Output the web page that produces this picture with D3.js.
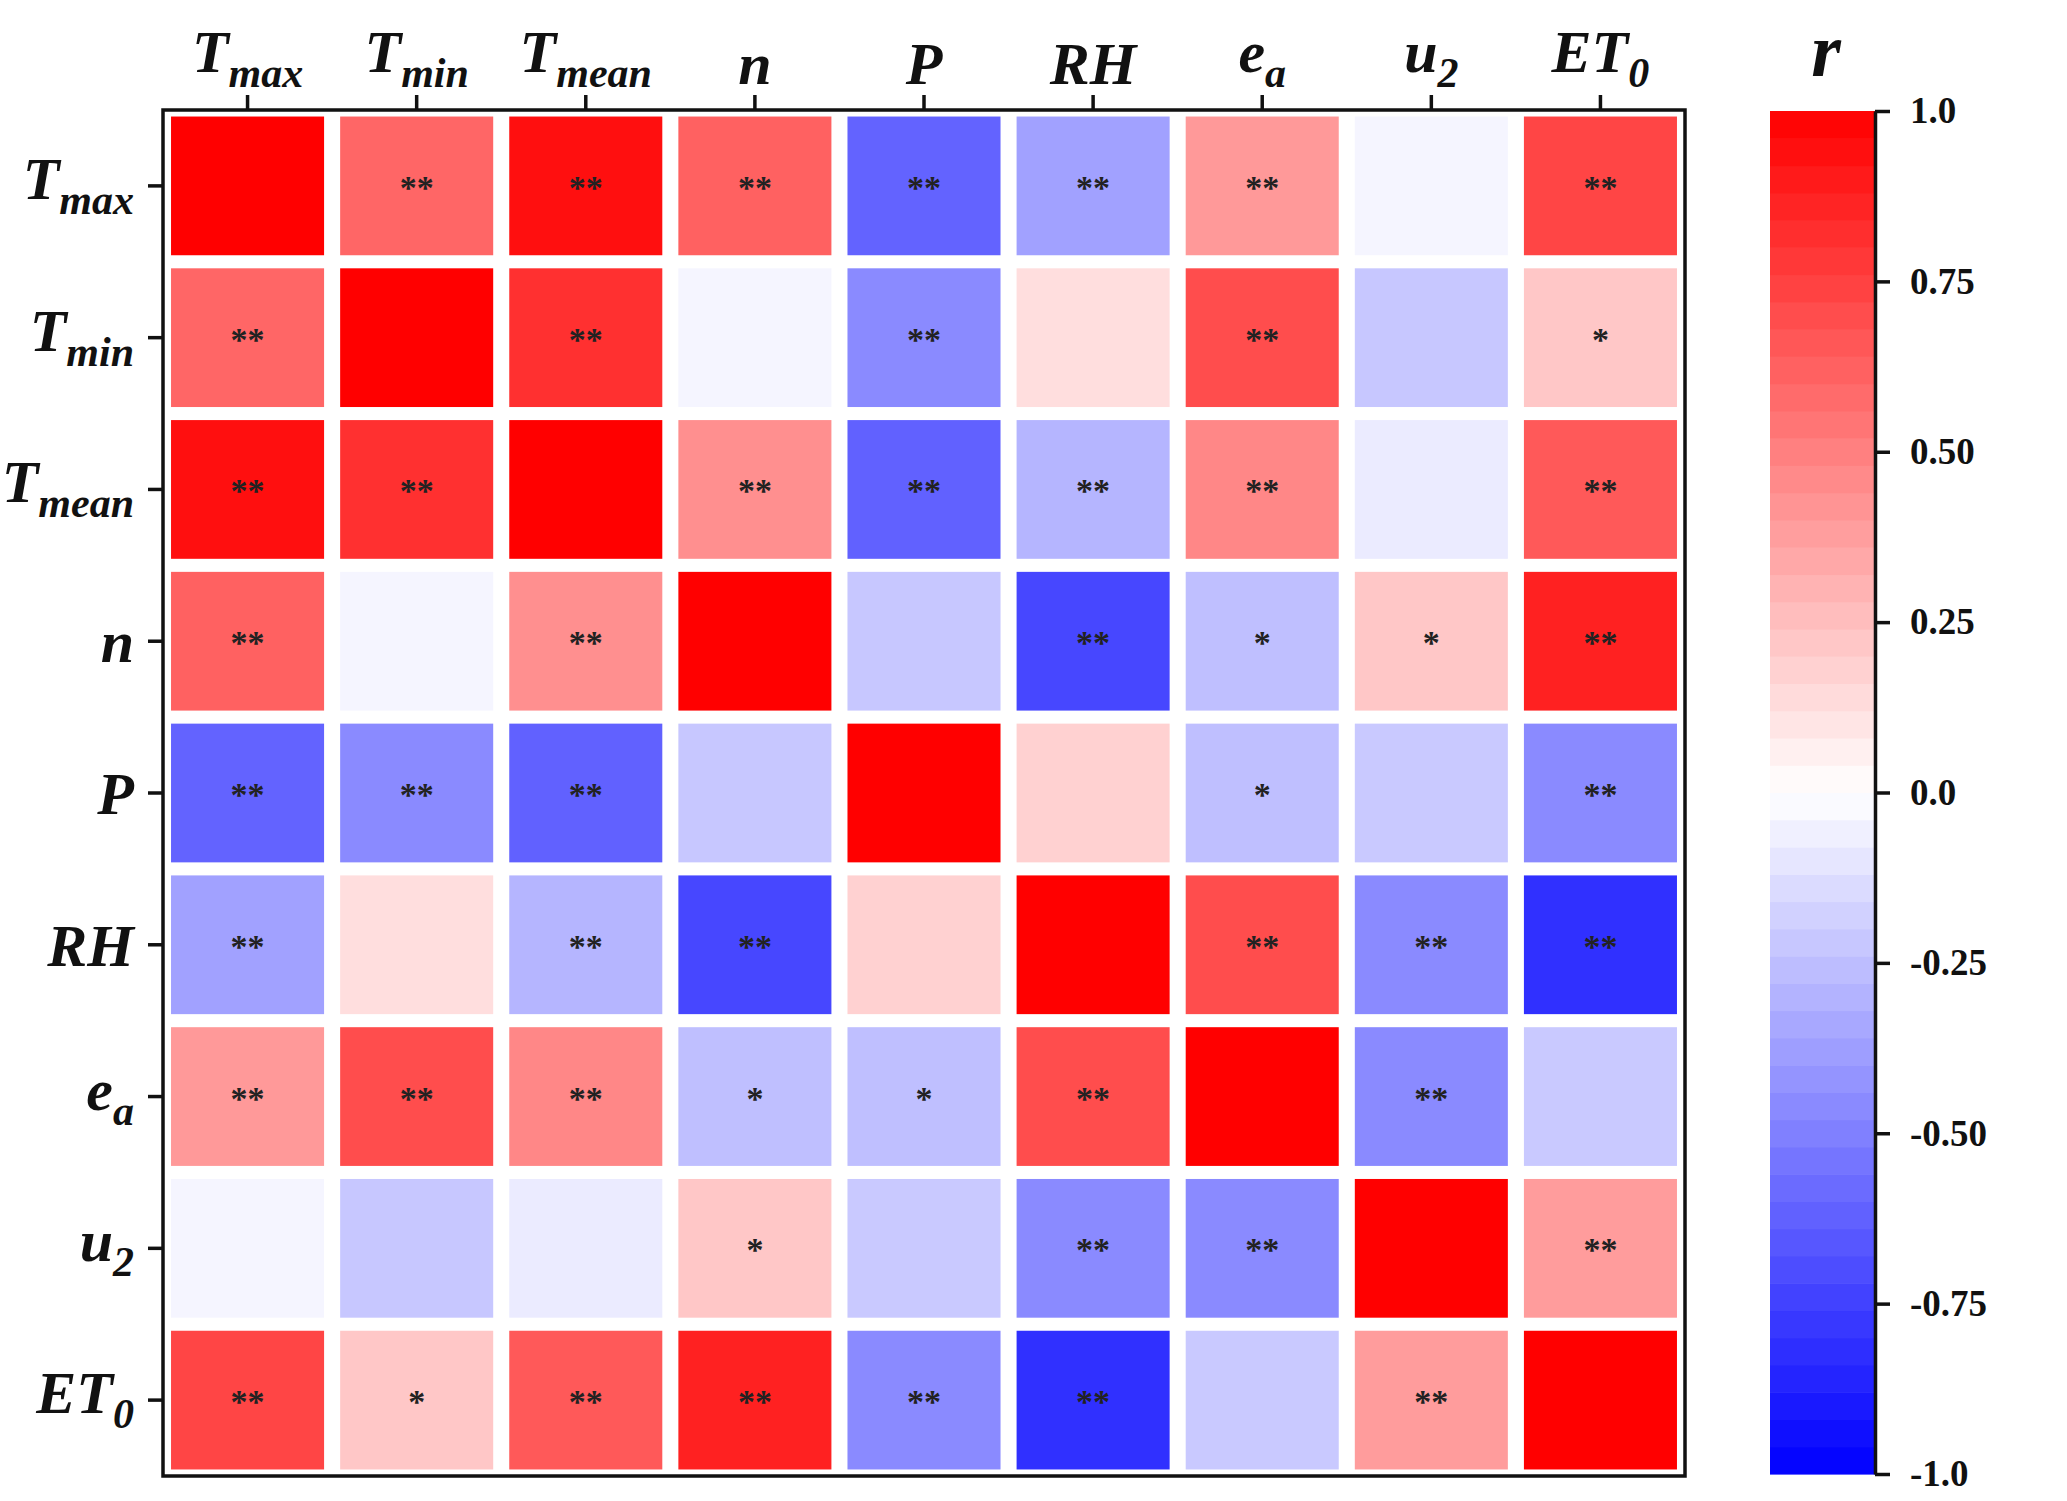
<!DOCTYPE html>
<html>
<head>
<meta charset="utf-8">
<script src="https://cdn.jsdelivr.net/npm/d3@7"></script>
<style>
    body { margin: 0; background: #fff; }
    svg { display: block; }
    .lbl { font-family: 'Liberation Serif', 'Times New Roman', serif; font-weight: bold; font-style: italic; }
    .num { font-family: 'Liberation Serif', 'Times New Roman', serif; font-weight: bold; }
</style>
</head>
<body>
<svg id="chart" width="2067" height="1501"></svg>
<script>
'use strict';

// variable names: main letter + subscript
var labelMain = ['T', 'T', 'T', 'n', 'P', 'RH', 'e', 'u', 'ET'];
var labelSub = ['max', 'min', 'mean', '', '', '', 'a', '2', '0'];

// correlation coefficients (row by row)
var rTmax = [1.00, 0.60, 0.94, 0.62, -0.61, -0.37, 0.40, -0.04, 0.73];
var rTmin = [0.60, 1.00, 0.81, -0.04, -0.46, 0.13, 0.70, -0.22, 0.22];
var rTmean = [0.94, 0.81, 1.00, 0.44, -0.62, -0.29, 0.47, -0.08, 0.65];
var rN = [0.62, -0.04, 0.44, 1.00, -0.22, -0.72, -0.25, 0.22, 0.87];
var rP = [-0.61, -0.46, -0.62, -0.22, 1.00, 0.18, -0.25, -0.21, -0.46];
var rRH = [-0.37, 0.13, -0.29, -0.72, 0.18, 1.00, 0.70, -0.46, -0.81];
var rEa = [0.40, 0.70, 0.47, -0.25, -0.25, 0.70, 1.00, -0.46, -0.21];
var rU2 = [-0.04, -0.22, -0.08, 0.22, -0.21, -0.46, -0.46, 1.00, 0.39];
var rET0 = [0.73, 0.22, 0.65, 0.87, -0.46, -0.81, -0.21, 0.39, 1.00];

// significance marks
var sTmax = ['', '**', '**', '**', '**', '**', '**', '', '**'];
var sTmin = ['**', '', '**', '', '**', '', '**', '', '*'];
var sTmean = ['**', '**', '', '**', '**', '**', '**', '', '**'];
var sN = ['**', '', '**', '', '', '**', '*', '*', '**'];
var sP = ['**', '**', '**', '', '', '', '*', '', '**'];
var sRH = ['**', '', '**', '**', '', '', '**', '**', '**'];
var sEa = ['**', '**', '**', '*', '*', '**', '', '**', ''];
var sU2 = ['', '', '', '*', '', '**', '**', '', '**'];
var sET0 = ['**', '*', '**', '**', '**', '**', '', '**', ''];

// colour bar ticks
var barTicks = [1, 0.75, 0.5, 0.25, 0, -0.25, -0.5, -0.75, -1];
var barTickLabels = ['1.0', '0.75', '0.50', '0.25', '0.0', '-0.25', '-0.50', '-0.75', '-1.0'];

var rMatrix = [rTmax, rTmin, rTmean, rN, rP, rRH, rEa, rU2, rET0];
var sMatrix = [sTmax, sTmin, sTmean, sN, sP, sRH, sEa, sU2, sET0];

var svg = d3.select('#chart');
var keys = d3.range(labelMain.length);

var plot = { left: 163, top: 110, right: 1685, bottom: 1476 };
var bar = { left: 1770, right: 1875, top: 111, bottom: 1474 };

var x = d3.scaleBand().domain(keys).range([plot.left, plot.right])
    .paddingInner(0.095).paddingOuter(0.0475);
var y = d3.scaleBand().domain(keys).range([plot.top, plot.bottom])
    .paddingInner(0.086).paddingOuter(0.043);
var color = d3.scaleLinear().domain([-1, 0, 1]).range(['#0000ff', '#ffffff', '#ff0000']);

var cells = [];
rMatrix.forEach(function (row, i) {
    row.forEach(function (v, j) {
        cells.push({ row: i, col: j, r: v, sig: sMatrix[i][j] });
    });
});

// cells
var g = svg.append('g');
g.selectAll('rect')
    .data(cells)
    .enter()
    .append('rect')
    .attr('x', function (d) { return x(d.col); })
    .attr('y', function (d) { return y(d.row); })
    .attr('width', x.bandwidth())
    .attr('height', y.bandwidth())
    .attr('fill', function (d) { return color(d.r); });

g.selectAll('text')
    .data(cells.filter(function (d) { return d.sig !== ''; }))
    .enter()
    .append('text')
    .attr('class', 'num')
    .attr('x', function (d) { return x(d.col) + x.bandwidth() / 2; })
    .attr('y', function (d) { return y(d.row) + y.bandwidth() / 2 + 13; })
    .attr('text-anchor', 'middle')
    .attr('font-size', 34)
    .attr('fill', '#222')
    .text(function (d) { return d.sig; });

// frame
svg.append('rect')
    .attr('x', plot.left).attr('y', plot.top)
    .attr('width', plot.right - plot.left).attr('height', plot.bottom - plot.top)
    .attr('fill', 'none').attr('stroke', '#111').attr('stroke-width', 3.5);

// ticks
var topAxis = svg.append('g')
    .attr('transform', 'translate(0,' + plot.top + ')')
    .call(d3.axisTop(x).tickSize(15).tickSizeOuter(0).tickFormat(''));
var leftAxis = svg.append('g')
    .attr('transform', 'translate(' + plot.left + ',0)')
    .call(d3.axisLeft(y).tickSize(15).tickSizeOuter(0).tickFormat(''));
[topAxis, leftAxis].forEach(function (a) {
    a.select('.domain').remove();
    a.selectAll('line').attr('stroke', '#111').attr('stroke-width', 3.5);
});

function addLabel(sel, i, anchor) {
    var t = sel.append('text')
        .attr('class', 'lbl')
        .attr('text-anchor', anchor)
        .attr('font-size', 60)
        .attr('fill', '#111');
    t.append('tspan').text(labelMain[i]);
    if (labelSub[i]) {
        t.append('tspan').attr('font-size', 42).attr('dy', 15).text(labelSub[i]);
    }
    return t;
}

// top labels
keys.forEach(function (i) {
    var t = addLabel(svg, i, 'middle');
    t.attr('x', x(i) + x.bandwidth() / 2)
        .attr('y', labelSub[i] ? 72 : 84);
});

// left labels
keys.forEach(function (i) {
    var cy = y(i) + y.bandwidth() / 2;
    var t = addLabel(svg, i, 'end');
    t.attr('x', 134)
        .attr('y', labelSub[i] ? cy + 13 : cy + 21);
});

// colour bar
var barScale = d3.scaleLinear().domain([-1, 1]).range([bar.bottom, bar.top]);
var steps = 50;
var bands = d3.range(steps).map(function (k) {
    return { lo: -1 + 2 * k / steps, hi: -1 + 2 * (k + 1) / steps };
});
svg.append('g').selectAll('rect')
    .data(bands)
    .enter()
    .append('rect')
    .attr('x', bar.left)
    .attr('width', bar.right - bar.left)
    .attr('y', function (d) { return barScale(d.hi); })
    .attr('height', function (d) { return barScale(d.lo) - barScale(d.hi) + 0.6; })
    .attr('fill', function (d) { return color((d.lo + d.hi) / 2); });

var barAxis = svg.append('g')
    .attr('transform', 'translate(' + bar.right + ',0)')
    .call(d3.axisRight(barScale)
        .tickValues(barTicks)
        .tickSize(15)
        .tickSizeOuter(0)
        .tickPadding(20)
        .tickFormat(function (d, k) { return barTickLabels[k]; }));
barAxis.select('.domain').attr('stroke', '#111').attr('stroke-width', 3.5);
barAxis.selectAll('line').attr('stroke', '#111').attr('stroke-width', 3.5);
barAxis.selectAll('text')
    .attr('class', 'num')
    .attr('font-size', 37)
    .attr('fill', '#111');

svg.append('text')
    .attr('class', 'lbl')
    .attr('x', 1826)
    .attr('y', 76)
    .attr('text-anchor', 'middle')
    .attr('font-size', 76)
    .attr('fill', '#111')
    .text('r');
</script>
</body>
</html>
